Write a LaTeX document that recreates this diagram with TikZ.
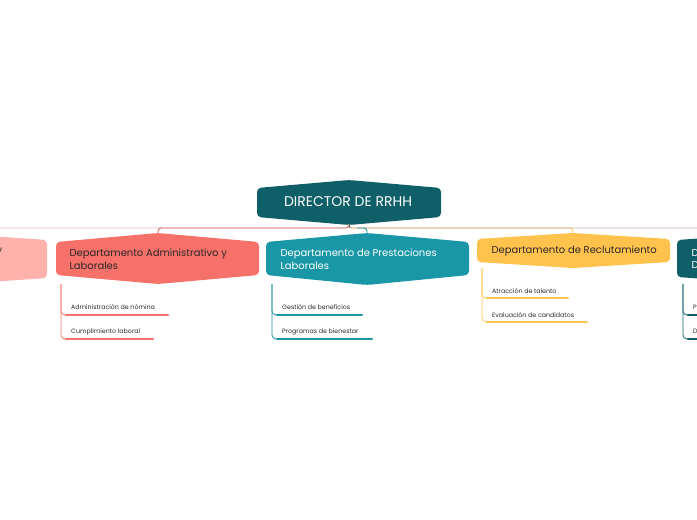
\documentclass[tikz,border=0pt]{standalone}
\usepackage{fontspec}
\setmainfont{Poppins}

\definecolor{dirteal}{RGB}{15,95,104}
\definecolor{redc}{RGB}{246,113,106}
\definecolor{tealc}{RGB}{25,151,166}
\definecolor{yellowc}{RGB}{255,195,77}
\definecolor{pinkc}{RGB}{255,178,172}
\definecolor{darktext}{RGB}{45,40,40}
\definecolor{linegray}{RGB}{198,178,174}
\definecolor{linepink}{RGB}{218,190,190}

% department shape: colour, left x, right x, peak x, top peak y, top corner y, bottom corner y, bottom peak y
\newcommand{\hexbox}[8]{%
  \fill[#1, rounded corners=4pt] (#2,#6) -- (#4,#5) -- (#3,#6) -- (#3,#7) -- (#4,#8) -- (#2,#7) -- cycle;}

\begin{document}
\begin{tikzpicture}[x=1pt, y=-1pt,
  dept/.style={anchor=west, align=left, font=\fontsize{10}{12.5}\selectfont},
  leaf/.style={anchor=base west, inner sep=0pt, text=darktext, font=\fontsize{6.3}{7}\selectfont},
  conn/.style={line width=0.9pt, rounded corners=3pt},
  stem/.style={line width=0.8pt, rounded corners=4pt},
  uline/.style={line width=2.4pt, line cap=round}]
  \useasboundingbox (0,0) rectangle (697,520);
  \clip (0,0) rectangle (697,520);

  % Director
  \hexbox{dirteal}{257}{441}{349}{180}{188}{217}{225}
  \node[text=white, font=\fontsize{14}{16}\selectfont] (dir) at (348,202) {DIRECTOR DE RRHH};
  \coordinate (dirbot) at (349,224);

  % Department shapes
  \hexbox{pinkc}{-155}{47}{-54}{233}{240}{278}{285}
  \hexbox{redc}{56}{259}{158}{233}{242}{275}{284}
  \hexbox{tealc}{266}{469}{367}{233}{242}{275}{285}
  \hexbox{yellowc}{477}{670}{573}{233}{239}{262}{268}
  \hexbox{dirteal}{677}{879}{778}{233}{240}{277}{284}

  % Department texts
  \node[dept, text=darktext] (seg) at (-7,258) {y\\\phantom{y}};
  \node[dept, text=darktext] (adm) at (66,259) {Departamento Administrativo y\\Laborales};
  \node[dept, text=white] (pre) at (277,259) {Departamento de Prestaciones\\Laborales};
  \node[dept, text=darktext] (rec) at (488,251) {Departamento de Reclutamiento};
  \node[dept, text=white] (des) at (688,259) {D\\D};

  % Connectors from the director
  \coordinate (segtop) at (-54,233);
  \coordinate (admtop) at (158,233);
  \coordinate (pretop) at (367,234);
  \coordinate (rectop) at (573,233);
  \coordinate (destop) at (778,233);
  \draw[conn, linepink] (dirbot) -- ++(0,4) -| (segtop);
  \draw[conn, redc!90!black] (dirbot) -- ++(0,4) -| (admtop);
  \draw[conn, yellowc] (dirbot) -- ++(0,4) -| (rectop);
  \draw[conn, linegray] (dirbot) -- ++(0,4) -| (destop);
  \draw[conn, tealc] (dirbot) ++(8,4) -| (pretop);
  \draw[conn, dirteal!70!linegray] (dirbot) -- ++(0,4);

  % Leaves: Administrativo y Laborales
  \coordinate (admfoot) at (61,284);
  \node[leaf] (adm1) at (71,309) {Administración de nómina};
  \node[leaf] (adm2) at (71,333) {Cumplimiento laboral};
  \draw[stem, redc] (admfoot) |- (66,315);
  \draw[stem, redc] (admfoot) |- (66,339);
  \draw[uline, redc] (66,315) -- (168,315);
  \draw[uline, redc] (66,339) -- (153,339);

  % Leaves: Prestaciones Laborales
  \coordinate (prefoot) at (272,284);
  \node[leaf] (pre1) at (282,309) {Gestión de beneficios};
  \node[leaf] (pre2) at (282,333) {Programas de bienestar};
  \draw[stem, tealc] (prefoot) |- (277,315);
  \draw[stem, tealc] (prefoot) |- (277,339);
  \draw[uline, tealc] (277,315) -- (362,315);
  \draw[uline, tealc] (277,339) -- (372,339);

  % Leaves: Reclutamiento
  \coordinate (recfoot) at (482,268);
  \node[leaf] (rec1) at (492,293) {Atracción de talento};
  \node[leaf] (rec2) at (492,317) {Evaluación de candidatos};
  \draw[stem, yellowc] (recfoot) |- (487,298);
  \draw[stem, yellowc] (recfoot) |- (487,322);
  \draw[uline, yellowc] (487,298) -- (568,298);
  \draw[uline, yellowc] (487,322) -- (587,322);

  % Leaves: right department
  \coordinate (desfoot) at (683,284);
  \node[leaf] (des1) at (693,309) {P};
  \node[leaf] (des2) at (693,333) {D};
  \draw[stem, dirteal] (desfoot) |- (688,315);
  \draw[stem, dirteal] (desfoot) |- (688,339);
  \draw[uline, dirteal] (688,315) -- (720,315);
  \draw[uline, dirteal] (688,339) -- (720,339);
\end{tikzpicture}
\end{document}
